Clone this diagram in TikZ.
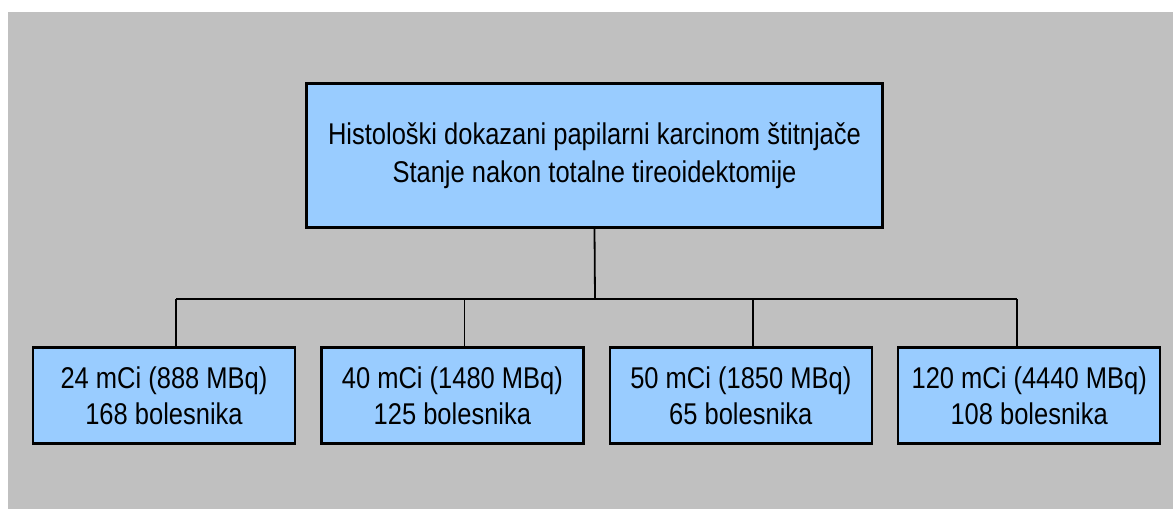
\documentclass[tikz,border=0pt]{standalone}
\usepackage{fontspec}
\setmainfont{Liberation Sans}[FakeStretch=0.85]
\usepackage{xcolor}
\usepackage{tikz}
\usetikzlibrary{positioning}
\definecolor{bggray}{HTML}{C0C0C0}
\definecolor{boxblue}{HTML}{99CCFF}
\tikzstyle{topbox} = [rectangle, draw=black, line width=1.2pt, fill=boxblue,
    minimum width=288pt, minimum height=72pt, align=center,
    font=\fontsize{15}{19}\selectfont]
\tikzstyle{dosebox} = [rectangle, draw=black, line width=1.2pt, fill=boxblue,
    minimum width=131pt, minimum height=48pt, align=center,
    font=\fontsize{15}{18}\selectfont]
\tikzstyle{line} = [draw, line width=0.9pt, -]

\begin{document}
\begin{tikzpicture}[x=0.5pt, y=-0.5pt, node distance=12pt]
  \useasboundingbox (0,0) rectangle (1173,509);
  \fill[bggray] (8,12) rectangle (1173,509);
  % Place nodes
  \node [topbox] (diag) at (594.5,155.5)
    {Histološki dokazani papilarni karcinom štitnjače\\Stanje nakon totalne tireoidektomije};
  \node [dosebox] (d24) at (164,395.5) {24 mCi (888 MBq)\\168 bolesnika};
  \node [dosebox, right=of d24] (d40) {40 mCi (1480 MBq)\\125 bolesnika};
  \node [dosebox, right=of d40] (d50) {50 mCi (1850 MBq)\\65 bolesnika};
  \node [dosebox, right=of d50] (d120) {120 mCi (4440 MBq)\\108 bolesnika};
  \coordinate (bus) at (595,299);
  % Draw edges
  \path [line] (diag.south) -- (bus);
  \foreach \n/\s in {d24/6pt, d40/6pt, d50/6pt, d120/-6pt}
    \path [line] ([xshift=\s]\n.north) -- ([xshift=\s]\n.north |- bus);
  \path [line] ([xshift=6pt]d24.north |- bus) -- ([xshift=-6pt]d120.north |- bus);
\end{tikzpicture}
\end{document}
